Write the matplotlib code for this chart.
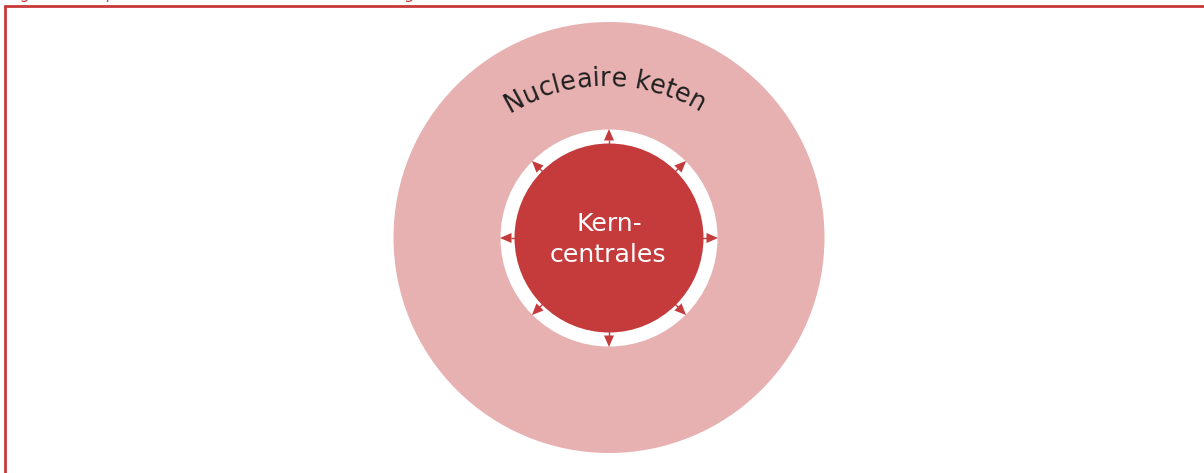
import numpy as np
import matplotlib
matplotlib.use("Agg")
import matplotlib.pyplot as plt
from matplotlib.patches import Circle, Polygon
from matplotlib.font_manager import FontProperties
from matplotlib.textpath import text_to_path

# ---- data ----
center_label_lines = ["Kern-", "centrales"]
ring_label = "Nucleaire keten"
caption = "Figuur 1: De plaats van de kerncentrales binnen de gehele nucleaire keten"
arrow_angles = [0, 45, 90, 135, 180, 225, 270, 315]

# ---- style ----
W, H = 1204, 473
PINK = "#E8B1B1"
RED = "#C53A3B"
BORDER = "#C8383A"
DARK = "#1E1E1E"
FONT = "DejaVu Sans"

fig = plt.figure(figsize=(W / 100, H / 100), dpi=100)
ax = fig.add_axes([0, 0, 1, 1])
ax.set_xlim(0, W)
ax.set_ylim(H, 0)
ax.axis("off")

cx, cy = 609, 238
R_outer, R_white, R_inner = 215.5, 108.5, 94.5

ax.add_patch(Circle((cx, cy - 0.5), R_outer, color=PINK, lw=0))
ax.add_patch(Circle((cx, cy), R_white, color="white", lw=0))
ax.add_patch(Circle((cx, cy), R_inner, color=RED, lw=0))

# arrows
for a in arrow_angles:
    t = np.deg2rad(a)
    ux, uy = np.cos(t), -np.sin(t)
    px, py = -uy, ux
    tip = (cx + ux * 109, cy + uy * 109)
    bc = (cx + ux * 97.5, cy + uy * 97.5)
    hw = 5.0
    tri = [tip, (bc[0] + px * hw, bc[1] + py * hw), (bc[0] - px * hw, bc[1] - py * hw)]
    ax.add_patch(Polygon(tri, closed=True, color=RED, lw=0))
    ax.plot([cx + ux * 93, cx + ux * 98], [cy + uy * 93, cy + uy * 98], color=RED, lw=1.0,
            solid_capstyle="butt")


def text_width(s, fp):
    w, h, d = text_to_path.get_text_width_height_descent(s, fp, ismath=False)
    return w


# center label, fitted to the reference width
fp_c = FontProperties(family=FONT, size=10)
w_c = text_width(center_label_lines[1], fp_c)
fs_c = 10 * (117 / (w_c * 100 / 72))
ax.text(cx, 231, center_label_lines[0], color="white", fontsize=fs_c, family=FONT,
        ha="center", va="baseline")
ax.text(cx - 1, 262, center_label_lines[1], color="white", fontsize=fs_c, family=FONT,
        ha="center", va="baseline")

# curved ring label
fp_r = FontProperties(family=FONT, size=10)
w_r = text_width(ring_label, fp_r)
target_len = 200.0
fs_r = 10 * (target_len / (w_r * 100 / 72))
fp_r = FontProperties(family=FONT, size=fs_r)
scale = 100 / 72
bar_w = text_width("|", fp_r)
total = text_width(ring_label, fp_r) * scale
acx, acy, AR = 605, 268, 182.0
theta_mid = np.pi / 2
for i, ch in enumerate(ring_label):
    if ch == " ":
        continue
    start = (text_width(ring_label[:i] + "|", fp_r) - bar_w) * scale if i > 0 else 0.0
    cw = text_width(ch, fp_r) * scale
    s = start + cw / 2
    th = theta_mid + (total / 2 - s) / AR
    x = acx + AR * np.cos(th)
    y = acy - AR * np.sin(th)
    ax.text(x, y, ch, fontsize=fs_r, family=FONT, color=DARK, ha="center", va="baseline",
            rotation=np.rad2deg(th) - 90, rotation_mode="anchor")

# caption (mostly cut off at the top) and frame lines
ax.text(8, -1.0, caption, color=BORDER, fontsize=11, family=FONT, style="italic",
        ha="left", va="baseline")
ax.plot([4, W], [6.5, 6.5], color=BORDER, lw=2.0, solid_capstyle="butt")
ax.plot([5, 5], [5.5, H], color=BORDER, lw=2.0, solid_capstyle="butt")

fig.savefig("out.png", dpi=100)
